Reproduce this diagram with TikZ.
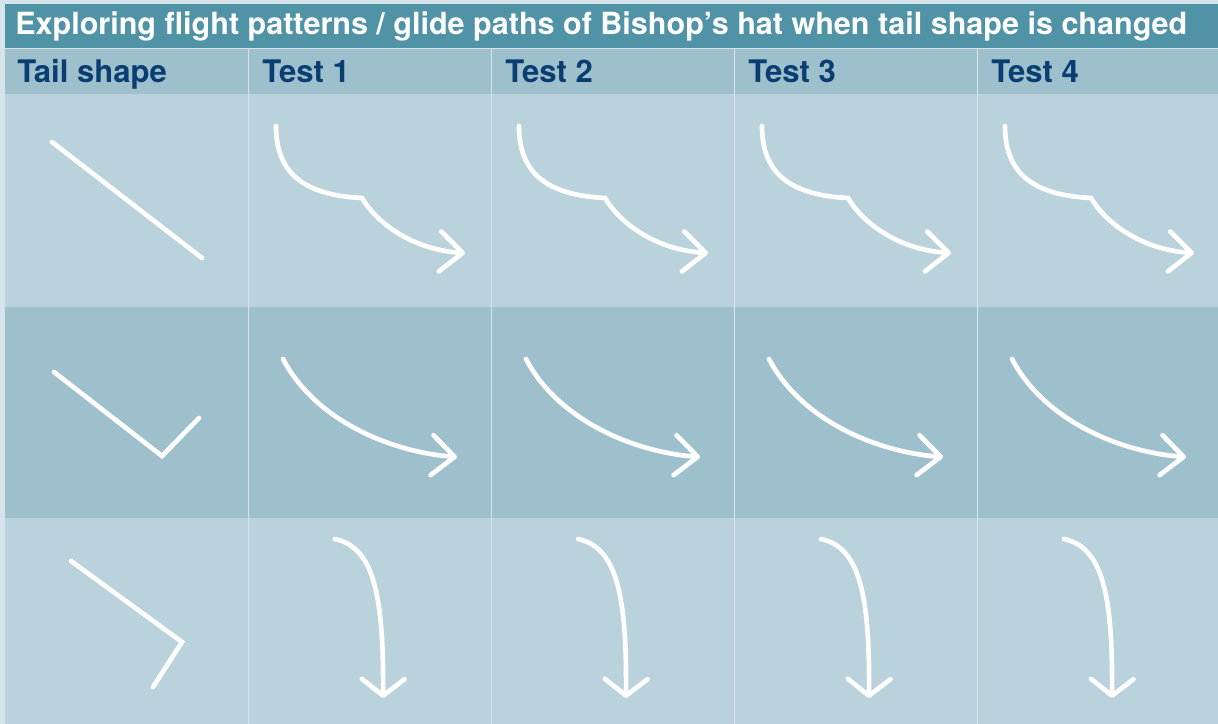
\documentclass[tikz,border=0pt]{standalone}
\usepackage{fontspec}
\setmainfont{TeX Gyre Heros}
\usepackage{tikz}
\usetikzlibrary{arrows.meta}
\usepackage{xcolor}
\definecolor{bgpale}{RGB}{213,228,234}
\definecolor{titleteal}{RGB}{80,146,166}
\definecolor{rowdark}{RGB}{158,192,204}
\definecolor{rowlight}{RGB}{185,210,219}
\definecolor{navy}{RGB}{10,62,114}

\tikzset{
  tailline/.style={white, line width=3.5pt, line cap=round, line join=miter},
  glide/.style={white, line width=3.5pt, line cap=round,
    -{Straight Barb[length=17pt, width=30pt, round]}},
  drop/.style={white, line width=3.5pt, line cap=round,
    -{Straight Barb[length=12.5pt, width=32pt, round]}},
  headtext/.style={anchor=base west, inner sep=0pt, navy,
    font=\fontsize{23.3}{26}\selectfont\bfseries},
  sepline/.style={bgpale, line width=1.1pt}
}

\begin{document}
\begin{tikzpicture}[x=0.75pt, y=-0.75pt]
  \useasboundingbox (0,0) rectangle (1218,724);
  % table background
  \fill[bgpale] (0,0) rectangle (1218,724);
  \fill[titleteal] (5,4) rectangle (1218,48);
  \fill[rowdark] (5,49) rectangle (1218,94);
  \fill[rowlight] (5,94) rectangle (1218,306.5);
  \fill[rowdark] (5,306.5) rectangle (1218,517.5);
  \fill[rowlight] (5,517.5) rectangle (1218,724);
  \foreach \x in {248.5, 491.5, 734.5, 977.5}
    \draw[sepline] (\x,49) -- (\x,724);

  % titles
  \node[anchor=base west, inner sep=0pt, white,
    font=\fontsize{22.9}{26}\selectfont\bfseries] (title) at (15,35)
    {Exploring flight patterns / glide paths of Bishop’s hat when tail shape is changed};
  \node[headtext] (tailhead) at (17,83) {Tail shape};
  \foreach \n in {1,...,4}
    \node[headtext] (test\n) at (262+243*\n-243,83) {Test \n};

  % tail shapes
  \draw[tailline] (52,142) -- (202,258);
  \draw[tailline] (54,372) -- (162,456) -- (199,418);
  \draw[tailline] (71,561) -- (182,642) -- (153,687);

  % glide paths
  \foreach \c in {0,...,3} {
    \begin{scope}[xshift=243*\c*0.75pt]
      \draw[glide] (276,126) .. controls (276,170) and (300,195) .. (362,198)
        .. controls (378,225) and (415,250) .. (465,253);
      \draw[glide] (283,359) .. controls (315,420) and (390,452) .. (457,457);
      \draw[drop] (335,539) .. controls (372,547) and (384,590) .. (383,698);
    \end{scope}
  }
\end{tikzpicture}
\end{document}
